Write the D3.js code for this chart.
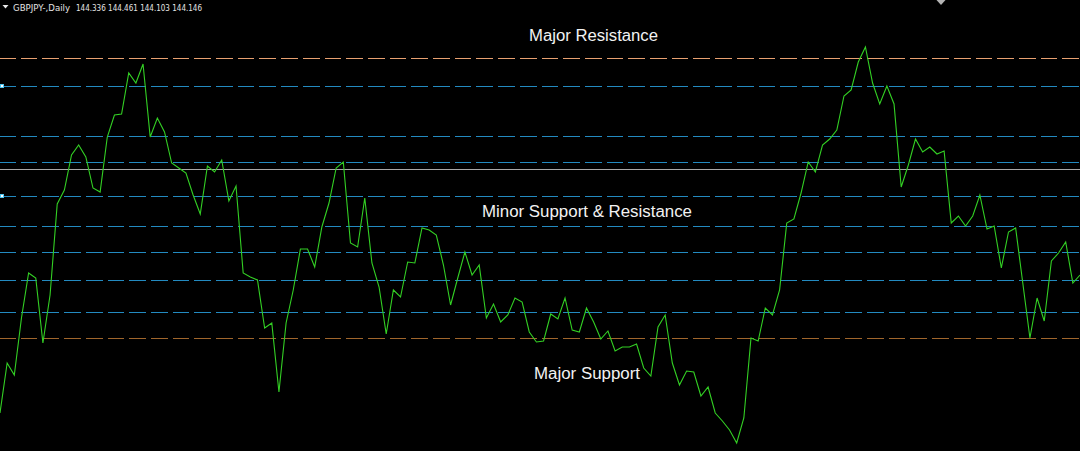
<!DOCTYPE html>
<html>
<head>
<meta charset="utf-8">
<script src="https://cdn.jsdelivr.net/npm/d3@7/dist/d3.min.js"></script>
<style>
  html, body { margin: 0; padding: 0; background: #000; overflow: hidden; }
  svg { display: block; }
</style>
</head>
<body>
<svg id="chart" width="1080" height="451"></svg>
<script>
// ---------- data ----------
const symbolTitle = "GBPJPY-,Daily";
const ohlcLabel = ["144.336", "144.461", "144.103", "144.146"];

// daily closes (one per bar)
const closes = [
  141.74, 142.74, 142.50, 143.64, 144.54, 144.44, 143.14, 144.10, 145.92, 146.20,
  146.90, 147.10, 146.86, 146.24, 146.16, 147.26, 147.70, 147.72, 148.54, 148.34,
  148.72, 147.26, 147.64, 147.36, 146.74, 146.64, 146.54, 146.10, 145.72, 146.68,
  146.56, 146.80, 145.98, 146.28, 144.54, 144.46, 144.40, 143.44, 143.54, 142.16,
  143.54, 144.20, 145.02, 145.02, 144.66, 145.46, 145.94, 146.64, 146.76, 145.14,
  145.06, 146.04, 144.74, 144.26, 143.32, 144.20, 144.06, 144.76, 144.74, 145.44,
  145.40, 145.30, 144.70, 143.90, 144.44, 144.96, 144.50, 144.70, 143.64, 143.92,
  143.56, 143.70, 144.04, 143.96, 143.36, 143.16, 143.18, 143.72, 143.62, 144.04,
  143.40, 143.36, 143.84, 143.56, 143.22, 143.38, 142.98, 143.06, 143.06, 143.12,
  142.64, 142.48, 143.46, 143.70, 142.74, 142.30, 142.58, 142.56, 142.08, 142.26,
  141.74, 141.58, 141.40, 141.14, 141.64, 143.24, 143.18, 143.84, 143.70, 144.20,
  145.54, 145.62, 146.14, 146.76, 146.56, 147.10, 147.22, 147.40, 148.08, 148.20,
  148.76, 149.06, 148.34, 147.92, 148.28, 147.92, 146.26, 146.70, 147.22, 146.96,
  147.06, 146.92, 146.98, 145.54, 145.68, 145.48, 145.68, 146.10, 145.42, 145.48,
  144.64, 145.36, 145.44, 144.34, 143.24, 144.04, 143.58, 144.78, 144.94, 145.16,
  144.34, 144.50
];
const bars = closes.map((_, i) => i);

// horizontal levels
const levelPrices = [148.83, 148.27, 147.27, 146.75, 146.61, 146.07, 145.47, 144.95, 144.39, 143.75, 143.23];
const levelKinds  = ["majorRes", "minor", "minor", "minor", "bid", "minor", "minor", "minor", "minor", "minor", "majorSup"];
const anchoredLevels = [148.27, 146.07]; // levels with a selection anchor

const zoneLabels = ["Major Resistance", "Minor Support & Resistance", "Major Support"];

// ---------- drawing ----------
const W = 1080, H = 451;
const svg = d3.select("#chart");

const x = d3.scaleLinear().domain([0, bars.length - 1]).range([0, W]);
const y = d3.scaleLinear().domain([150, 140.98]).range([0, H]);

svg.append("rect").attr("width", W).attr("height", H).attr("fill", "#000");

const levelStyle = {
  majorRes: { color: "#e8a070", dash: "16.7 5" },
  minor:    { color: "#238ac0", dash: "16.7 5" },
  bid:      { color: "#a8a8a8", dash: null },
  majorSup: { color: "#a0662c", dash: "16.7 5" }
};

const lv = svg.append("g");
levelPrices.forEach((p, i) => {
  const st = levelStyle[levelKinds[i]];
  const ln = lv.append("line")
    .attr("x1", 0).attr("x2", W)
    .attr("y1", y(p)).attr("y2", y(p))
    .attr("stroke", st.color)
    .attr("stroke-width", 1)
    .attr("shape-rendering", "crispEdges");
  if (st.dash) ln.attr("stroke-dasharray", st.dash).attr("stroke-dashoffset", 1);
});

// anchor squares
anchoredLevels.forEach(p => {
  const cy = Math.round(y(p) - 0.5);
  svg.append("rect").attr("x", 0).attr("y", cy - 2).attr("width", 4).attr("height", 4)
    .attr("fill", "#4fc3ee").attr("shape-rendering", "crispEdges");
  svg.append("rect").attr("x", 1).attr("y", cy - 1).attr("width", 2).attr("height", 2)
    .attr("fill", "#ffffff").attr("shape-rendering", "crispEdges");
});

// price line
const line = d3.line().x((d, i) => x(i)).y(d => y(d));
svg.append("path")
  .datum(closes)
  .attr("d", line)
  .attr("fill", "none")
  .attr("stroke", "#33d024")
  .attr("stroke-width", 1.1)
  .attr("stroke-linejoin", "miter");

// zone labels
const labelFont = "'Liberation Sans', Arial, sans-serif";
const labelPos = [
  { x: 529, y: 41, len: 129 },
  { x: 482, y: 217, len: 210 },
  { x: 534, y: 379, len: 106 }
];
zoneLabels.forEach((t, i) => {
  svg.append("text")
    .attr("x", labelPos[i].x).attr("y", labelPos[i].y)
    .attr("textLength", labelPos[i].len)
    .attr("lengthAdjust", "spacingAndGlyphs")
    .attr("fill", "#f2f2f2")
    .style("font-family", labelFont)
    .style("font-size", "16px")
    .text(t);
});

// header
svg.append("path").attr("d", "M2.5,5 L8.5,5 L5.5,8.5 Z").attr("fill", "#e8e8e8");
svg.append("text")
  .attr("x", 13).attr("y", 11)
  .attr("textLength", 57).attr("lengthAdjust", "spacingAndGlyphs")
  .attr("fill", "#e4e4e4")
  .style("font-family", "'DejaVu Sans', Tahoma, sans-serif")
  .style("font-size", "9.5px")
  .text(symbolTitle);
svg.append("text")
  .attr("x", 76).attr("y", 11)
  .attr("textLength", 126).attr("lengthAdjust", "spacingAndGlyphs")
  .attr("fill", "#e4e4e4")
  .style("font-family", "'DejaVu Sans', Tahoma, sans-serif")
  .style("font-size", "9.5px")
  .text(ohlcLabel.join(" "));

// chart shift marker (top right)
svg.append("path").attr("d", "M936.5,0 L945.5,0 L941,5 Z").attr("fill", "#b4b4b4");
</script>
</body>
</html>
